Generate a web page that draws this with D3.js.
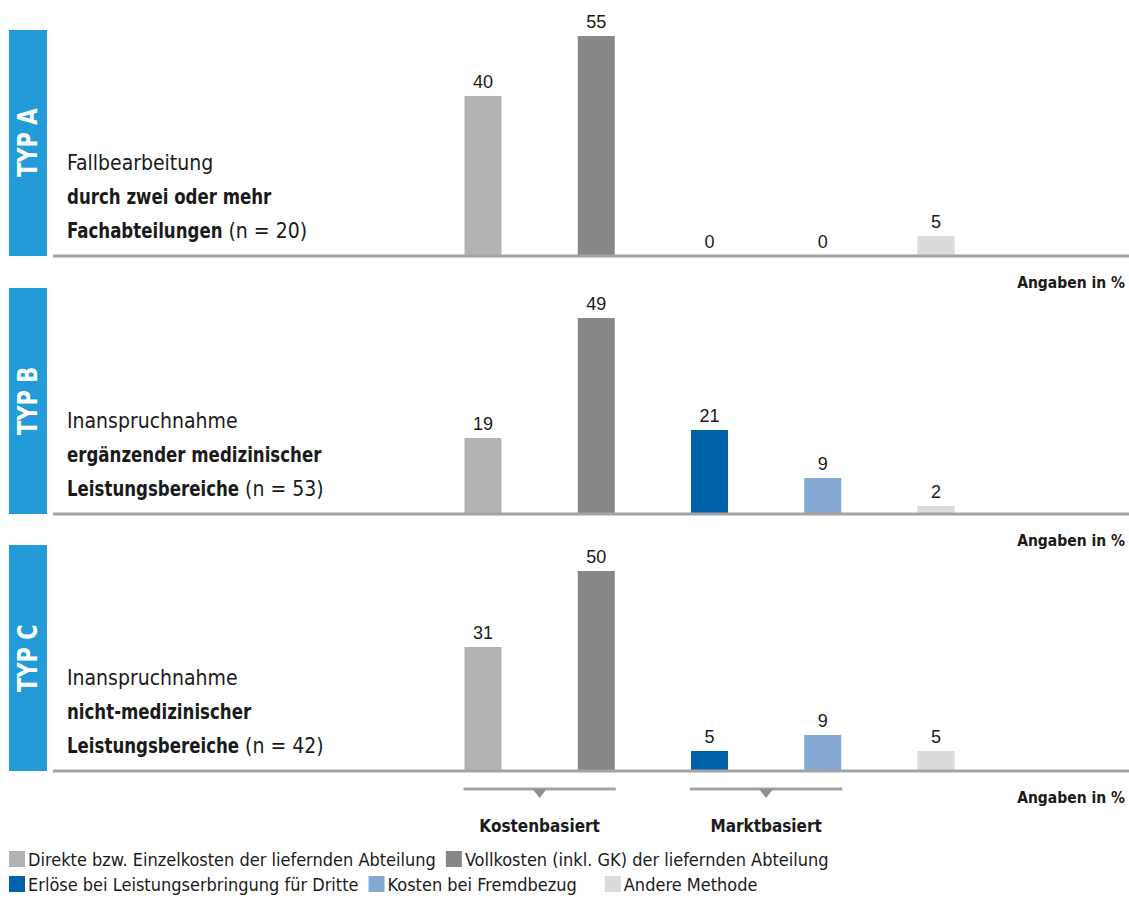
<!DOCTYPE html>
<html>
<head>
<meta charset="utf-8">
<script src="https://cdn.jsdelivr.net/npm/d3@7"></script>
<style>
  html, body { margin: 0; padding: 0; background: #fff; }
  svg { display: block; }
  text { font-family: "Liberation Sans Narrow", "DejaVu Sans Condensed", "Roboto Condensed", sans-serif; fill: #1a1a1a; }
  text.val { font-family: "Liberation Sans", Arial, sans-serif; }
</style>
</head>
<body>
<svg id="chart" width="1129" height="904"></svg>
<script>
// Methods of internal transfer pricing (legend order = bar order)
const methods = [
  "Direkte bzw. Einzelkosten der liefernden Abteilung",
  "Vollkosten (inkl. GK) der liefernden Abteilung",
  "Erlöse bei Leistungserbringung für Dritte",
  "Kosten bei Fremdbezug",
  "Andere Methode"
];
const methodColors = ["#b2b3b5", "#878786", "#0062a8", "#85a9d4", "#dadada"];

// Panels
const typeLabels = ["TYP A", "TYP B", "TYP C"];
const descLine1 = ["Fallbearbeitung", "Inanspruchnahme", "Inanspruchnahme"];
const descLine2 = ["durch zwei oder mehr", "ergänzender medizinischer", "nicht-medizinischer"];
const descLine3 = ["Fachabteilungen", "Leistungsbereiche", "Leistungsbereiche"];
const sampleSizes = [20, 53, 42];

// Shares in %
const valuesA = [40, 55, 0, 0, 5];
const valuesB = [19, 49, 21, 9, 2];
const valuesC = [31, 50, 5, 9, 5];
const panelValues = [valuesA, valuesB, valuesC];

// Groupings below the bars
const groupLabels = ["Kostenbasiert", "Marktbasiert"];
const groupMembers = [[0, 1], [2, 3]];

const unitLabel = "Angaben in %";

const svg = d3.select("#chart");

const x = d3.scalePoint().domain(methods.map((d, i) => i)).range([483, 936]);
const barW = 37;
const h = d3.scaleLinear().domain([0, 60]).range([0, 240]);

const baselines = [256, 514, 771];
const panelH = 226;

// bold text set slightly narrower, like a condensed bold cut
const boldSqueeze = 0.88;
function boldText(parent, x0, y0, size, str) {
  const t = parent.append("text")
    .attr("transform", `translate(${x0},${y0}) scale(${boldSqueeze},1)`)
    .attr("font-size", size).attr("font-weight", "bold").text(str);
  return t.node().getComputedTextLength() * boldSqueeze;
}

panelValues.forEach((vals, p) => {
  const by = baselines[p];
  const g = svg.append("g");

  // blue type band
  g.append("rect")
    .attr("x", 9).attr("y", by - panelH).attr("width", 38).attr("height", panelH)
    .attr("fill", "#229bd8");
  g.append("text")
    .attr("transform", `translate(37, ${by - 79}) rotate(-90) scale(0.9,1)`)
    .attr("font-size", 26).attr("font-weight", "bold")
    .style("fill", "#fff")
    .text(typeLabels[p]);

  // description
  const tx = 67;
  g.append("text").attr("x", tx).attr("y", by - 86).attr("font-size", 21).text(descLine1[p]);
  boldText(g, tx, by - 52, 21, descLine2[p]);
  const w3 = boldText(g, tx, by - 18, 21, descLine3[p]);
  g.append("text").attr("x", tx + w3 + 6).attr("y", by - 18).attr("font-size", 21)
    .text(`(n = ${sampleSizes[p]})`);

  // bars
  g.selectAll("rect.bar").data(vals).join("rect")
    .attr("class", "bar")
    .attr("x", (d, i) => x(i) - barW / 2)
    .attr("y", d => by - h(d))
    .attr("width", barW)
    .attr("height", d => h(d))
    .attr("fill", (d, i) => methodColors[i]);

  // value labels
  g.selectAll("text.val").data(vals).join("text")
    .attr("class", "val")
    .attr("x", (d, i) => x(i))
    .attr("y", d => by - h(d) - 8)
    .attr("text-anchor", "middle")
    .attr("font-size", 18)
    .text(d => d);

  // baseline
  g.append("line")
    .attr("x1", 53).attr("x2", 1129).attr("y1", by).attr("y2", by)
    .attr("stroke", "#a3a3a3").attr("stroke-width", 3);

  // unit note
  g.append("text")
    .attr("x", 1125).attr("y", by + 32)
    .attr("text-anchor", "end").attr("font-size", 15.5).attr("font-weight", "bold")
    .text(unitLabel);
});

// group brackets
const brY = 789;
groupMembers.forEach((m, k) => {
  const x0 = x(m[0]) - barW / 2 - 1;
  const x1 = x(m[m.length - 1]) + barW / 2 + 1;
  const cx = (x0 + x1) / 2;
  svg.append("line").attr("x1", x0).attr("x2", x1).attr("y1", brY).attr("y2", brY)
    .attr("stroke", "#a3a3a3").attr("stroke-width", 3);
  svg.append("path")
    .attr("d", `M${cx - 7},${brY} L${cx + 7},${brY} L${cx},${brY + 9} Z`)
    .attr("fill", "#8e8e8e");
  svg.append("text").attr("x", cx).attr("y", 832)
    .attr("text-anchor", "middle").attr("font-size", 17).attr("font-weight", "bold")
    .text(groupLabels[k]);
});

// legend
const legendRows = [[0, 1], [2, 3, 4]];
const legendY = [866, 891];
legendRows.forEach((row, r) => {
  let cx = 9;
  row.forEach((i, j) => {
    if (i === 4) cx += 18;
    svg.append("rect").attr("x", cx).attr("y", legendY[r] - 15).attr("width", 16).attr("height", 16)
      .attr("fill", methodColors[i]);
    const t = svg.append("text").attr("x", cx + 19).attr("y", legendY[r])
      .attr("font-size", 18).text(methods[i]);
    cx += 19 + t.node().getComputedTextLength() + 10;
  });
});
</script>
</body>
</html>
